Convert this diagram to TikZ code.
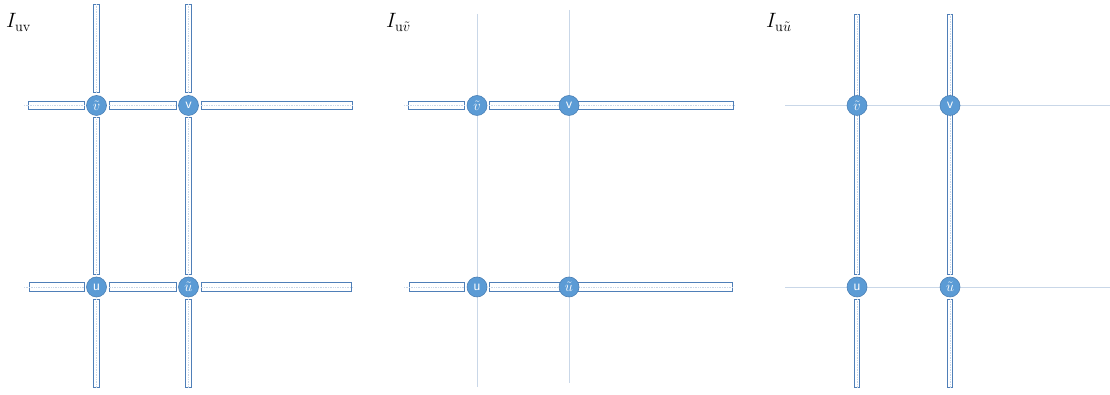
\documentclass[tikz,border=0pt]{standalone}
\usepackage{amsmath,amssymb}
\usepackage{xcolor}
\usepackage{tikz}
\usetikzlibrary{calc,backgrounds}
\definecolor{nodeblue}{HTML}{5B9BD5}
\definecolor{nodeedge}{HTML}{4A7FB5}
\definecolor{tubeedge}{HTML}{4F7FB8}
\definecolor{faint}{HTML}{C9D7E8}
\tikzset{
  vert/.style={circle,fill=nodeblue,draw=nodeedge,line width=0.6pt,minimum size=20pt,inner sep=0pt,outer sep=2pt,text=white,font=\Large\sffamily},
  title/.style={anchor=base west,inner sep=0pt,font=\huge},
  tubeh/.style={draw=tubeedge,line width=9.4pt},
  tubev/.style={draw=tubeedge,line width=6.4pt},
  tubehin/.style={draw=white,line width=7.4pt,shorten <=1pt,shorten >=1pt},
  tubevin/.style={draw=white,line width=4.4pt,shorten <=1pt,shorten >=1pt},
  axis/.style={draw=faint,line width=0.7pt,densely dotted},
  guide/.style={draw=faint,line width=0.7pt}
}
% horizontal and vertical tube between two named points
\newcommand{\htube}[2]{\draw[tubeh] (#1)--(#2); \draw[tubehin] (#1)--(#2); \draw[axis] (#1)--(#2);}
\newcommand{\vtube}[2]{\draw[tubev] (#1)--(#2); \draw[tubevin] (#1)--(#2); \draw[axis] (#1)--(#2);}

\begin{document}
\begin{tikzpicture}[x=1pt,y=1pt]
  \useasboundingbox (0,0) rectangle (1110,395);

  % ---- panel 1
  \node[title] (t1) at (6,367) {$I_{\mathrm{uv}}$};
  \node[vert] (p1vt) at (96.5,289.5) {$\tilde{v}$};
  \node[vert] (p1v) at (188.5,289.5) {v};
  \node[vert] (p1u) at (96.5,108) {u};
  \node[vert] (p1ut) at (188.5,108) {$\tilde{u}$};
  \coordinate (p1a) at (28,289.5);
  \coordinate (p1b) at (353,289.5);
  \coordinate (p1c) at (29,108);
  \coordinate (p1d) at (352,108);
  \coordinate (p1e) at (96.5,391);
  \coordinate (p1f) at (188.5,391);
  \coordinate (p1g) at (96.5,7);
  \coordinate (p1h) at (188.5,7);
  \coordinate (p1i) at (24,289.5);
  \coordinate (p1j) at (24,108);
  \begin{scope}[on background layer]
    \draw[axis] (p1i)--(p1a);
    \draw[axis] (p1j)--(p1c);
    \htube{p1a}{p1vt} \htube{p1vt}{p1v} \htube{p1v}{p1b}
    \htube{p1c}{p1u} \htube{p1u}{p1ut} \htube{p1ut}{p1d}
    \vtube{p1e}{p1vt} \vtube{p1f}{p1v}
    \vtube{p1vt}{p1u} \vtube{p1v}{p1ut}
    \vtube{p1u}{p1g} \vtube{p1ut}{p1h}
  \end{scope}

  % ---- panel 2
  \node[title] (t2) at (386,367) {$I_{\mathrm{u}\tilde{v}}$};
  \node[vert] (p2vt) at (477,289.5) {$\tilde{v}$};
  \node[vert] (p2v) at (569,289.5) {v};
  \node[vert] (p2u) at (477,108) {u};
  \node[vert] (p2ut) at (569,108) {$\tilde{u}$};
  \coordinate (p2a) at (408,289.5);
  \coordinate (p2b) at (734,289.5);
  \coordinate (p2c) at (409,108);
  \coordinate (p2d) at (733,108);
  \coordinate (p2e) at (477,381);
  \coordinate (p2f) at (569,385);
  \coordinate (p2g) at (477,8);
  \coordinate (p2h) at (569,12);
  \coordinate (p2i) at (404,289.5);
  \coordinate (p2j) at (404,108);
  \begin{scope}[on background layer]
    \draw[guide] (p2e)--(p2g);
    \draw[guide] (p2f)--(p2h);
    \draw[axis] (p2i)--(p2a);
    \draw[axis] (p2j)--(p2c);
    \htube{p2a}{p2vt} \htube{p2vt}{p2b}
    \htube{p2c}{p2u} \htube{p2u}{p2d}
  \end{scope}

  % ---- panel 3
  \node[title] (t3) at (766,367) {$I_{\mathrm{u}\tilde{u}}$};
  \node[vert] (p3vt) at (857,289.5) {$\tilde{v}$};
  \node[vert] (p3v) at (950,289.5) {v};
  \node[vert] (p3u) at (857,108) {u};
  \node[vert] (p3ut) at (950,108) {$\tilde{u}$};
  \coordinate (p3a) at (785,289.5);
  \coordinate (p3b) at (1110,289.5);
  \coordinate (p3c) at (785,108);
  \coordinate (p3d) at (1110,108);
  \coordinate (p3e) at (857,381);
  \coordinate (p3f) at (950,381);
  \coordinate (p3g) at (857,7);
  \coordinate (p3h) at (950,7);
  \begin{scope}[on background layer]
    \draw[guide] (p3a)--(p3b);
    \draw[guide] (p3c)--(p3d);
    \vtube{p3e}{p3u} \vtube{p3f}{p3ut}
    \vtube{p3u}{p3g} \vtube{p3ut}{p3h}
  \end{scope}
\end{tikzpicture}
\end{document}
